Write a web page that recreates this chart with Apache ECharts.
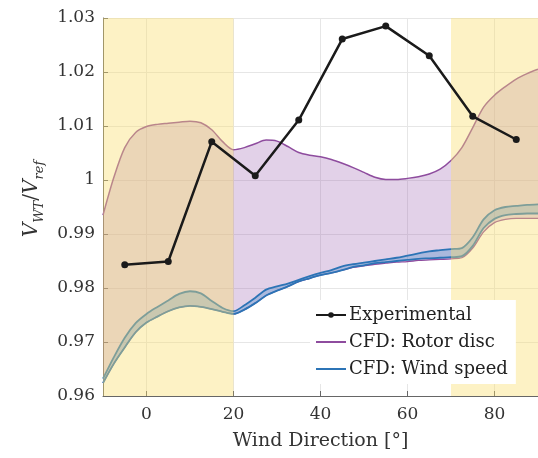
<!DOCTYPE html>
<html>
<head>
<meta charset="utf-8">
<script src="https://cdn.jsdelivr.net/npm/echarts@6/dist/echarts.min.js"></script>
<style>
  html, body { margin: 0; padding: 0; background: #fff; }
  #chart { width: 538px; height: 458px; }
</style>
</head>
<body>
<div id="chart"></div>
<script>
// wind direction grid for the CFD curves
const angles = [-10, -7.5, -5, -2.5, 0, 2.5, 5, 7.5, 10, 12.5, 15, 17.5, 20, 22.5, 25, 27.5, 30, 32.5, 35, 37.5,
  40, 42.5, 45, 47.5, 50, 52.5, 55, 57.5, 60, 62.5, 65, 67.5, 70, 72.5, 75, 77.5, 80, 82.5, 85, 87.5, 90];

const rotorHi = [0.9935, 1.0005, 1.0060, 1.0088, 1.0099, 1.0103, 1.0105, 1.0107, 1.0109, 1.0106, 1.0093, 1.0071, 1.0056,
  1.0060, 1.0067, 1.0074, 1.0072, 1.0062, 1.0051, 1.0046, 1.0043, 1.0038, 1.0031, 1.0023, 1.0014, 1.0005, 1.0001,
  1.0001, 1.0003, 1.0006, 1.0011, 1.0020, 1.0036, 1.0060, 1.0097, 1.0135, 1.0157, 1.0173, 1.0187, 1.0197, 1.0205];

const rotorLo = [0.9624, 0.9660, 0.9690, 0.9718, 0.9736, 0.9747, 0.9757, 0.9764, 0.9767, 0.9765, 0.9761, 0.9756, 0.9752,
  0.9760, 0.9772, 0.9786, 0.9795, 0.9803, 0.9812, 0.9818, 0.9824, 0.9828, 0.9833, 0.9838, 0.9841, 0.9844, 0.9846,
  0.9848, 0.9849, 0.9851, 0.9852, 0.9853, 0.9854, 0.9856, 0.9874, 0.9904, 0.9921, 0.9927, 0.9929, 0.9929, 0.9929];

const windHi = [0.9632, 0.9672, 0.9708, 0.9735, 0.9752, 0.9765, 0.9777, 0.9789, 0.9794, 0.9790, 0.9776, 0.9763, 0.9757,
  0.9768, 0.9782, 0.9797, 0.9803, 0.9808, 0.9815, 0.9822, 0.9828, 0.9833, 0.9840, 0.9844, 0.9847, 0.9850, 0.9853,
  0.9856, 0.9860, 0.9864, 0.9868, 0.9870, 0.9872, 0.9874, 0.9894, 0.9927, 0.9944, 0.9950, 0.9952, 0.9954, 0.9955];

const windLo = [0.9624, 0.9660, 0.9690, 0.9718, 0.9736, 0.9747, 0.9757, 0.9764, 0.9767, 0.9765, 0.9761, 0.9756, 0.9752,
  0.9760, 0.9772, 0.9786, 0.9795, 0.9803, 0.9812, 0.9818, 0.9824, 0.9828, 0.9833, 0.9839, 0.9842, 0.9846, 0.9848,
  0.9850, 0.9852, 0.9854, 0.9855, 0.9856, 0.9857, 0.9859, 0.9878, 0.9911, 0.9928, 0.9935, 0.9937, 0.9938, 0.9938];

// experimental measurements
const expAngles = [-5, 5, 15, 25, 35, 45, 55, 65, 75, 85];
const expValues = [0.9843, 0.9849, 1.0071, 1.0008, 1.0111, 1.0261, 1.0285, 1.0230, 1.0118, 1.0075];

// shaded (yellow) direction sectors
const shadedZones = [[-10, 20], [70, 90]];

const pairs = (xs, ys) => xs.map((x, i) => [x, ys[i]]);

const font = 'DejaVu Serif';
const purple = '#8e4c9e';
const blue = '#2c74b6';

// filled band between two curves, placed with the axis scales
function band(hi, lo, fill) {
  return function (params, api) {
    const top = angles.map((x, i) => api.coord([x, hi[i]]));
    const bottom = angles.map((x, i) => api.coord([x, lo[i]])).reverse();
    return {
      type: 'polygon',
      shape: { points: top.concat(bottom) },
      style: { fill: fill },
      silent: true
    };
  };
}

function edge(name, ys, color, width, z) {
  return {
    name: name,
    type: 'line',
    data: pairs(angles, ys),
    smooth: 0.3,
    symbol: 'none',
    z: z,
    color: color,
    lineStyle: { color: color, width: width },
    emphasis: { disabled: true }
  };
}

var chart = echarts.init(document.getElementById('chart'));

var option = {
  animation: false,
  backgroundColor: '#fff',
  grid: { left: 103, right: -3, top: 18, bottom: 62 },
  legend: {
    orient: 'vertical',
    left: 310,
    top: 300,
    z: 20,
    padding: [5, 8, 5, 5],
    backgroundColor: '#fff',
    itemWidth: 30,
    itemHeight: 7,
    itemGap: 7,
    data: [
      { name: 'Experimental' },
      { name: 'CFD: Rotor disc', itemStyle: { opacity: 0 } },
      { name: 'CFD: Wind speed', itemStyle: { opacity: 0 } }
    ],
    textStyle: { fontFamily: font, fontSize: 18, color: '#222', lineHeight: 20, padding: [0, 0, 0, -2] }
  },
  xAxis: {
    type: 'value',
    min: -10,
    max: 90,
    name: 'Wind Direction [°]',
    nameLocation: 'middle',
    nameGap: 36,
    nameTextStyle: { fontFamily: font, fontSize: 19, color: '#333' },
    axisLine: { onZero: false, lineStyle: { color: '#666', width: 1 } },
    axisTick: { inside: true, length: 5, lineStyle: { color: '#666' } },
    axisLabel: { fontFamily: font, fontSize: 17, color: '#333', margin: 10, showMinLabel: false, showMaxLabel: false },
    splitLine: { show: true, lineStyle: { color: '#e6e6e6', width: 1 } }
  },
  yAxis: {
    type: 'value',
    min: 0.96,
    max: 1.03,
    interval: 0.01,
    name: '{i|V}{s|WT}{n|/}{i|V}{s|ref}',
    nameLocation: 'middle',
    nameGap: 46,
    nameTextStyle: {
      color: '#333',
      padding: [0, 0, 0, 16],
      rich: {
        i: { fontFamily: font, fontSize: 20, fontStyle: 'italic', color: '#333', lineHeight: 28, verticalAlign: 'middle' },
        n: { fontFamily: font, fontSize: 20, color: '#333', lineHeight: 28, verticalAlign: 'middle' },
        s: { fontFamily: font, fontSize: 13, fontStyle: 'italic', color: '#333', lineHeight: 28, verticalAlign: 'bottom' }
      }
    },
    axisLine: { show: true, onZero: false, lineStyle: { color: '#666', width: 1 } },
    axisTick: { show: true, inside: true, length: 5, lineStyle: { color: '#666' } },
    axisLabel: { fontFamily: font, fontSize: 17, color: '#333', margin: 8 },
    splitLine: { show: true, lineStyle: { color: '#e6e6e6', width: 1 } }
  },
  series: [
    {
      name: 'rotorBand',
      type: 'custom',
      clip: true,
      z: 2,
      data: [0],
      renderItem: band(rotorHi, rotorLo, 'rgba(150, 90, 172, 0.28)'),
      markArea: {
        silent: true,
        z: 10,
        itemStyle: { color: 'rgba(250, 222, 110, 0.4)' },
        data: shadedZones.map(z => [{ xAxis: z[0] }, { xAxis: z[1] }])
      }
    },
    edge('rotorLo', rotorLo, purple, 1.3, 2),
    edge('CFD: Rotor disc', rotorHi, purple, 1.5, 2),
    {
      name: 'windBand',
      type: 'custom',
      clip: true,
      z: 3,
      data: [0],
      renderItem: band(windHi, windLo, 'rgba(70, 140, 200, 0.35)')
    },
    edge('windLo', windLo, blue, 1.8, 3),
    edge('CFD: Wind speed', windHi, blue, 1.8, 3),
    {
      name: 'Experimental',
      type: 'line',
      data: pairs(expAngles, expValues),
      symbol: 'circle',
      symbolSize: 7,
      z: 12,
      color: '#1a1a1a',
      lineStyle: { color: '#1a1a1a', width: 2.5 },
      itemStyle: { color: '#1a1a1a' },
      emphasis: { disabled: true }
    }
  ]
};

chart.setOption(option);
</script>
</body>
</html>
